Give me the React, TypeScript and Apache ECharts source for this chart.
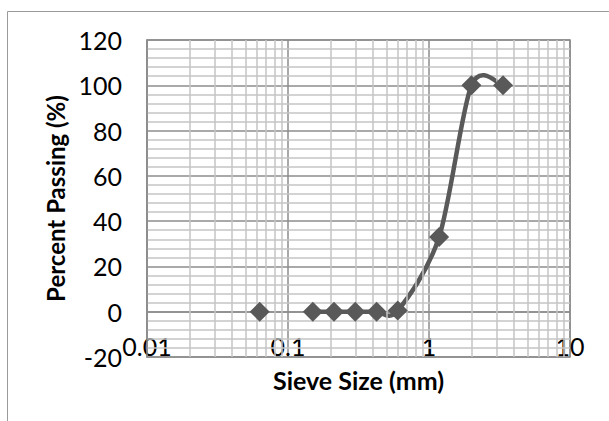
import React, { useEffect, useRef } from "react";
import * as echarts from "echarts";

const sieveSizes = [0.063, 0.15, 0.212, 0.3, 0.425, 0.6, 1.18, 2, 3.35];
const percentPassing = [0, 0, 0, 0, 0, 0.5, 33, 100, 100];
const xTickLabels = ["0.01", "0.1", "1", "10"];
const yTickLabels = [-20, 0, 20, 40, 60, 80, 100, 120];
const decades = [0.01, 0.1, 1];
const minorMultipliers = [2, 3, 4, 5, 6, 7, 8, 9];

export default function App() {
  const ref = useRef<HTMLDivElement>(null);
  useEffect(() => {
    if (!ref.current) return;
    const chart = echarts.init(ref.current, undefined, { renderer: "svg" });
    const points = sieveSizes.map((s, i) => [s, percentPassing[i]]);
    const isolated = points.slice(0, 1);
    const connected = points.slice(1);
    const minorX: number[] = [];
    decades.forEach((d) => minorMultipliers.forEach((m) => minorX.push(+(d * m).toPrecision(3))));
    const font = "Lato, 'Liberation Sans', sans-serif";
    const lineColor = "#595959";

    // Excel-like smooth curve (Catmull-Rom Bezier) in pixel space
    const renderSegment = (params: any, api: any) => {
      const i = params.dataIndex;
      const n = connected.length;
      if (i >= n - 1) return null;
      const px = connected.map((p) => api.coord(p));
      const p0 = px[Math.max(i - 1, 0)];
      const p1 = px[i];
      const p2 = px[i + 1];
      const p3 = px[Math.min(i + 2, n - 1)];
      const k = 0.15;
      return {
        type: "bezierCurve",
        shape: {
          x1: p1[0],
          y1: p1[1],
          cpx1: p1[0] + (p2[0] - p0[0]) * k,
          cpy1: p1[1] + (p2[1] - p0[1]) * k,
          cpx2: p2[0] - (p3[0] - p1[0]) * k,
          cpy2: p2[1] - (p3[1] - p1[1]) * k,
          x2: p2[0],
          y2: p2[1],
        },
        style: { stroke: lineColor, lineWidth: 4.5, fill: "none", lineCap: "round" },
      };
    };

    chart.setOption({
      animation: false,
      backgroundColor: "#ffffff",
      textStyle: { fontFamily: font },
      graphic: [
        {
          type: "rect",
          shape: { x: 7.5, y: 11.5, width: 640, height: 440 },
          style: { fill: "none", stroke: "#9a9a9a", lineWidth: 1 },
          silent: true,
        },
      ],
      grid: {
        left: 147,
        top: 40,
        right: 39,
        bottom: 64,
        show: true,
        borderColor: "#8c8c8c",
        borderWidth: 1.5,
      },
      xAxis: {
        type: "log",
        logBase: 10,
        min: 0.01,
        max: 10,
        name: "Sieve Size (mm)",
        nameLocation: "middle",
        nameGap: 10,
        nameTextStyle: { fontFamily: font, fontWeight: "bold", fontSize: 25, color: "#000", verticalAlign: "top" },
        axisLine: { show: true, lineStyle: { color: "#8c8c8c", width: 1.5 } },
        axisTick: { show: false },
        axisLabel: {
          fontFamily: font,
          fontSize: 25,
          color: "#000",
          margin: -24,
          formatter: (v: number) => {
            const e = Math.round(Math.log10(v));
            return xTickLabels[e + 2] ?? String(v);
          },
        },
        splitLine: { show: true, lineStyle: { color: "#8c8c8c", width: 1.5 } },
        minorTick: { show: false },
        minorSplitLine: { show: false },
      },
      yAxis: {
        type: "value",
        min: yTickLabels[0],
        max: yTickLabels[yTickLabels.length - 1],
        interval: 20,
        name: "Percent Passing (%)",
        nameLocation: "middle",
        nameGap: 76,
        nameTextStyle: { fontFamily: font, fontWeight: "bold", fontSize: 24, color: "#000" },
        axisLine: { show: true, lineStyle: { color: "#8c8c8c", width: 1.5 } },
        axisTick: { show: false },
        axisLabel: { fontFamily: font, fontSize: 25, color: "#000", margin: 25 },
        splitLine: { show: true, lineStyle: { color: "#8c8c8c", width: 1.5 } },
        minorTick: { show: false, splitNumber: 5 },
        minorSplitLine: { show: true, lineStyle: { color: "#c4c4c4", width: 1.5 } },
        z: 3,
      },
      series: [
        {
          type: "line",
          data: [],
          z: 1,
          silent: true,
          markLine: {
            silent: true,
            symbol: "none",
            label: { show: false },
            lineStyle: { color: "#c4c4c4", width: 1.5, type: "solid" },
            data: minorX.map((x) => ({ xAxis: x })),
          },
        },
        {
          type: "custom",
          data: connected,
          renderItem: renderSegment,
          encode: { x: 0, y: 1 },
          silent: true,
          z: 4,
        },
        {
          type: "scatter",
          data: isolated.concat(connected),
          symbol: "diamond",
          symbolSize: [20, 20],
          itemStyle: { color: lineColor, opacity: 1 },
          z: 5,
        },
      ],
    });
    return () => chart.dispose();
  }, []);
  return (
    <div
      ref={ref}
      style={{ position: "fixed", left: 0, top: 0, width: 609, height: 421 }}
    />
  );
}
